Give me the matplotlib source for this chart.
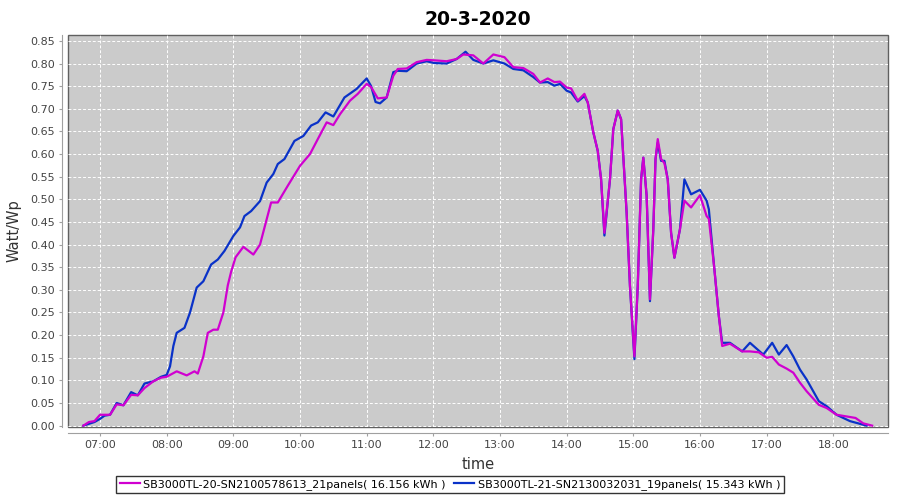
import numpy as np
import matplotlib
matplotlib.use("Agg")
import matplotlib.pyplot as plt

# readings (time of day, Watt/Wp)
blue_times = ["06:45", "06:50", "06:55", "07:00", "07:04", "07:09", "07:15", "07:21", "07:28", "07:34",
              "07:40", "07:48", "07:55", "08:00", "08:03", "08:06", "08:09", "08:16", "08:21", "08:27",
              "08:33", "08:40", "08:46", "08:52", "09:00", "09:06", "09:10", "09:16", "09:24", "09:30",
              "09:36", "09:40", "09:46", "09:55", "10:03", "10:10", "10:16", "10:23", "10:30", "10:40",
              "10:51", "11:00", "11:04", "11:08", "11:12", "11:18", "11:24", "11:28", "11:36", "11:45",
              "11:54", "12:01", "12:12", "12:21", "12:29", "12:36", "12:45", "12:54", "13:04", "13:12",
              "13:21", "13:30", "13:36", "13:43", "13:49", "13:54", "14:00", "14:04", "14:10", "14:16",
              "14:19", "14:24", "14:28", "14:31", "14:34", "14:39", "14:42", "14:46", "14:49", "14:54",
              "14:57", "15:01", "15:04", "15:07", "15:09", "15:12", "15:15", "15:18", "15:20", "15:22",
              "15:25", "15:28", "15:31", "15:34", "15:37", "15:42", "15:46", "15:52", "16:00", "16:06",
              "16:08", "16:13", "16:17", "16:20", "16:27", "16:38", "16:45", "16:57", "17:05", "17:11",
              "17:18", "17:24", "17:30", "17:36", "17:47", "17:54", "18:03", "18:15", "18:27", "18:30"]
blue_vals = [0.000, 0.004, 0.008, 0.015, 0.022, 0.024, 0.050, 0.045, 0.074, 0.067,
             0.093, 0.098, 0.108, 0.112, 0.131, 0.176, 0.205, 0.216, 0.250, 0.305,
             0.319, 0.356, 0.367, 0.386, 0.419, 0.438, 0.463, 0.474, 0.496, 0.537,
             0.556, 0.578, 0.589, 0.629, 0.640, 0.663, 0.670, 0.692, 0.683, 0.725,
             0.744, 0.767, 0.750, 0.715, 0.712, 0.725, 0.781, 0.784, 0.783, 0.800,
             0.805, 0.801, 0.800, 0.810, 0.826, 0.808, 0.800, 0.807, 0.800, 0.788,
             0.785, 0.770, 0.758, 0.759, 0.751, 0.755, 0.740, 0.736, 0.716, 0.728,
             0.714, 0.648, 0.607, 0.544, 0.420, 0.544, 0.655, 0.696, 0.677, 0.470,
             0.308, 0.147, 0.308, 0.544, 0.592, 0.508, 0.275, 0.434, 0.589, 0.625,
             0.585, 0.585, 0.544, 0.426, 0.371, 0.434, 0.544, 0.511, 0.521, 0.497,
             0.478, 0.345, 0.242, 0.183, 0.183, 0.164, 0.183, 0.157, 0.183, 0.157,
             0.178, 0.153, 0.124, 0.102, 0.054, 0.043, 0.024, 0.010, 0.002, 0.000]

magenta_times = ["06:45", "06:50", "06:55", "07:00", "07:09", "07:15", "07:21", "07:28", "07:34", "07:40",
                 "07:48", "07:55", "08:00", "08:09", "08:18", "08:25", "08:28", "08:33", "08:37", "08:42",
                 "08:46", "08:51", "08:55", "08:58", "09:02", "09:09", "09:18", "09:24", "09:30", "09:34",
                 "09:40", "09:49", "10:00", "10:09", "10:16", "10:24", "10:30", "10:36", "10:45", "10:52",
                 "11:00", "11:04", "11:10", "11:18", "11:24", "11:28", "11:36", "11:45", "11:54", "12:01",
                 "12:12", "12:21", "12:27", "12:36", "12:45", "12:54", "13:04", "13:12", "13:21", "13:30",
                 "13:36", "13:43", "13:49", "13:54", "14:00", "14:04", "14:10", "14:16", "14:19", "14:24",
                 "14:28", "14:31", "14:34", "14:39", "14:42", "14:46", "14:49", "14:54", "14:57", "15:01",
                 "15:04", "15:07", "15:09", "15:12", "15:15", "15:18", "15:20", "15:22", "15:25", "15:28",
                 "15:31", "15:34", "15:37", "15:42", "15:46", "15:52", "16:00", "16:06", "16:08", "16:13",
                 "16:17", "16:20", "16:27", "16:38", "16:45", "16:53", "17:00", "17:05", "17:11", "17:18",
                 "17:24", "17:30", "17:36", "17:47", "17:54", "18:03", "18:20", "18:27", "18:35"]
magenta_vals = [0.000, 0.008, 0.010, 0.024, 0.024, 0.047, 0.045, 0.068, 0.067, 0.083,
                0.098, 0.106, 0.108, 0.120, 0.111, 0.120, 0.115, 0.153, 0.205, 0.212,
                0.212, 0.250, 0.310, 0.340, 0.372, 0.395, 0.378, 0.400, 0.456, 0.493,
                0.493, 0.530, 0.574, 0.600, 0.633, 0.670, 0.664, 0.688, 0.718, 0.733,
                0.755, 0.748, 0.723, 0.725, 0.773, 0.788, 0.789, 0.803, 0.808, 0.807,
                0.805, 0.810, 0.820, 0.818, 0.800, 0.820, 0.814, 0.792, 0.790, 0.777,
                0.758, 0.767, 0.759, 0.760, 0.747, 0.745, 0.718, 0.733, 0.714, 0.648,
                0.607, 0.544, 0.426, 0.544, 0.655, 0.696, 0.677, 0.470, 0.308, 0.153,
                0.308, 0.544, 0.592, 0.508, 0.279, 0.434, 0.589, 0.633, 0.589, 0.580,
                0.544, 0.426, 0.371, 0.434, 0.497, 0.482, 0.509, 0.463, 0.457, 0.345,
                0.242, 0.176, 0.181, 0.164, 0.164, 0.162, 0.150, 0.152, 0.135, 0.126,
                0.117, 0.095, 0.076, 0.046, 0.039, 0.024, 0.017, 0.005, 0.000]

labels = ["SB3000TL-20-SN2100578613_21panels( 16.156 kWh )",
          "SB3000TL-21-SN2130032031_19panels( 15.343 kWh )"]
hour_ticks = list(range(7, 19))


def to_hours(times):
    return np.array([int(t[:2]) + int(t[3:]) / 60 for t in times])


fig = plt.figure(figsize=(9, 5), dpi=100)
ax = fig.add_axes([0.0756, 0.146, 0.911, 0.784])
ax.set_facecolor("#cbcbcb")
ax.patch.set_edgecolor("#606060")
ax.patch.set_linewidth(1.0)

ax.plot(to_hours(magenta_times), magenta_vals, color="#d000d0", lw=1.6, label=labels[0], zorder=3)
ax.plot(to_hours(blue_times), blue_vals, color="#0a32c8", lw=1.6, label=labels[1], zorder=2)

ax.set_xlim(6.52, 18.82)
ax.set_ylim(-0.003, 0.863)
ax.set_xticks(hour_ticks)
ax.set_xticklabels([f"{h:02d}:00" for h in hour_ticks])
ax.set_yticks(np.arange(0, 0.851, 0.05))
ax.set_yticklabels([f"{v:.2f}" for v in np.arange(0, 0.851, 0.05)])
ax.grid(True, color="white", linestyle=(0, (3, 2)), linewidth=0.7)

for s in ["top", "right"]:
    ax.spines[s].set_visible(False)
for s in ["left", "bottom"]:
    ax.spines[s].set_position(("outward", 4))
    ax.spines[s].set_color("#a0a0a0")
ax.tick_params(colors="#a0a0a0", labelcolor="#444444", labelsize=8, length=2, width=0.8)

ax.set_title("20-3-2020", fontsize=13.5, fontweight="bold", pad=7)
ax.set_xlabel("time", fontsize=10.5, color="#333333", labelpad=5)
ax.set_ylabel("Watt/Wp", fontsize=10.5, color="#333333", labelpad=6)

leg = fig.legend(loc="lower center", bbox_to_anchor=(0.5, 0.002), ncol=2, fontsize=8,
                 frameon=True, fancybox=False, edgecolor="black", handlelength=1.8,
                 handletextpad=0.3, columnspacing=0.8, borderpad=0.3)
leg.get_frame().set_linewidth(1.0)

fig.savefig("out.png", dpi=100)
